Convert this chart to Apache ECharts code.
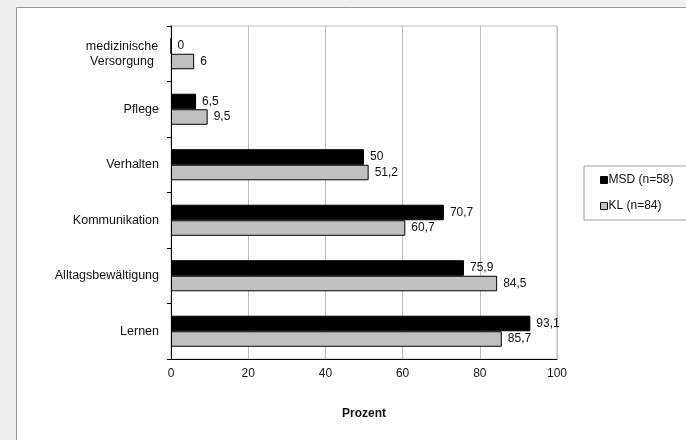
<!DOCTYPE html>
<html>
<head>
<meta charset="utf-8">
<script src="https://cdn.jsdelivr.net/npm/echarts@6/dist/echarts.min.js"></script>
<style>
  html, body { margin: 0; padding: 0; background: #f0f0f0; }
  #chart { width: 686px; height: 440px; }
</style>
</head>
<body>
<div id="chart"></div>
<script>
// Bereiche (von oben nach unten)
const categories = ['medizinische\nVersorgung', 'Pflege', 'Verhalten', 'Kommunikation', 'Alltagsbewältigung', 'Lernen'];
// Anteile in Prozent
const msdValues = [0, 6.5, 50, 70.7, 75.9, 93.1];
const klValues = [6, 9.5, 51.2, 60.7, 84.5, 85.7];
const seriesNames = ['MSD (n=58)', 'KL (n=84)'];
const xTicks = { min: 0, max: 100, interval: 20 };

const FONT = '"Liberation Sans", Arial, sans-serif';
const deComma = v => String(v).replace('.', ',');

const chart = echarts.init(document.getElementById('chart'), null, { renderer: 'canvas' });

const barLabel = {
  show: true,
  position: 'right',
  distance: 6,
  color: '#111',
  fontFamily: FONT,
  fontSize: 12,
  formatter: p => deComma(p.value)
};

chart.setOption({
  backgroundColor: '#f0f0f0',
  animation: false,
  textStyle: { fontFamily: FONT },
  graphic: [{
    type: 'rect',
    z: -10,
    shape: { x: 16.5, y: 7.5, width: 700, height: 460 },
    style: { fill: '#ffffff', stroke: '#9a9a9a', lineWidth: 1 }
  }],
  grid: {
    left: 171, right: 129, top: 26, bottom: 81,
    show: true, borderColor: '#bdbdbd', borderWidth: 1, backgroundColor: 'transparent'
  },
  legend: {
    orient: 'vertical',
    left: 584, top: 166,
    padding: [8, 30, 8, 16],
    itemGap: 14,
    itemWidth: 7, itemHeight: 7,
    borderColor: '#a0a0a0', borderWidth: 1,
    backgroundColor: '#ffffff',
    icon: 'rect',
    textStyle: { fontFamily: FONT, fontSize: 12, color: '#111', padding: [0, 0, 0, -4] },
    data: [
      { name: seriesNames[0], itemStyle: { color: '#000', borderColor: '#000', borderWidth: 1 } },
      { name: seriesNames[1], itemStyle: { color: '#c0c0c0', borderColor: '#000', borderWidth: 1 } }
    ]
  },
  xAxis: {
    type: 'value',
    min: xTicks.min, max: xTicks.max, interval: xTicks.interval,
    name: 'Prozent',
    nameLocation: 'middle',
    nameGap: 49,
    nameTextStyle: { fontFamily: FONT, fontSize: 12, fontWeight: 'bold', color: '#111' },
    axisLine: { show: true, lineStyle: { color: '#000', width: 1 } },
    axisTick: { show: false },
    axisLabel: { fontFamily: FONT, fontSize: 12, color: '#111', margin: 9 },
    splitLine: { show: true, lineStyle: { color: '#bdbdbd', width: 1 } }
  },
  yAxis: {
    type: 'category',
    inverse: true,
    data: categories,
    axisLine: { show: true, lineStyle: { color: '#000', width: 1 } },
    axisTick: { show: true, length: 4, inside: false, lineStyle: { color: '#000' } },
    axisLabel: {
      fontFamily: FONT, fontSize: 12.5, color: '#111', margin: 12, align: 'right',
      lineHeight: 15,
      formatter: v => v.indexOf('\n') >= 0
        ? v.split('\n').map(s => '{c|' + s + '}').join('\n')
        : v,
      rich: { c: { width: 74, align: 'center', fontSize: 12.5, lineHeight: 15, fontFamily: FONT, color: '#111' } }
    },
    splitLine: { show: false }
  },
  series: [
    {
      name: seriesNames[0],
      type: 'bar',
      data: msdValues,
      barCategoryGap: '44%',
      barGap: '0%',
      itemStyle: { color: '#000', borderColor: '#000', borderWidth: 1 },
      label: barLabel
    },
    {
      name: seriesNames[1],
      type: 'bar',
      data: klValues,
      barCategoryGap: '44%',
      barGap: '0%',
      itemStyle: { color: '#c0c0c0', borderColor: '#000', borderWidth: 1 },
      label: barLabel
    }
  ]
});
</script>
</body>
</html>
